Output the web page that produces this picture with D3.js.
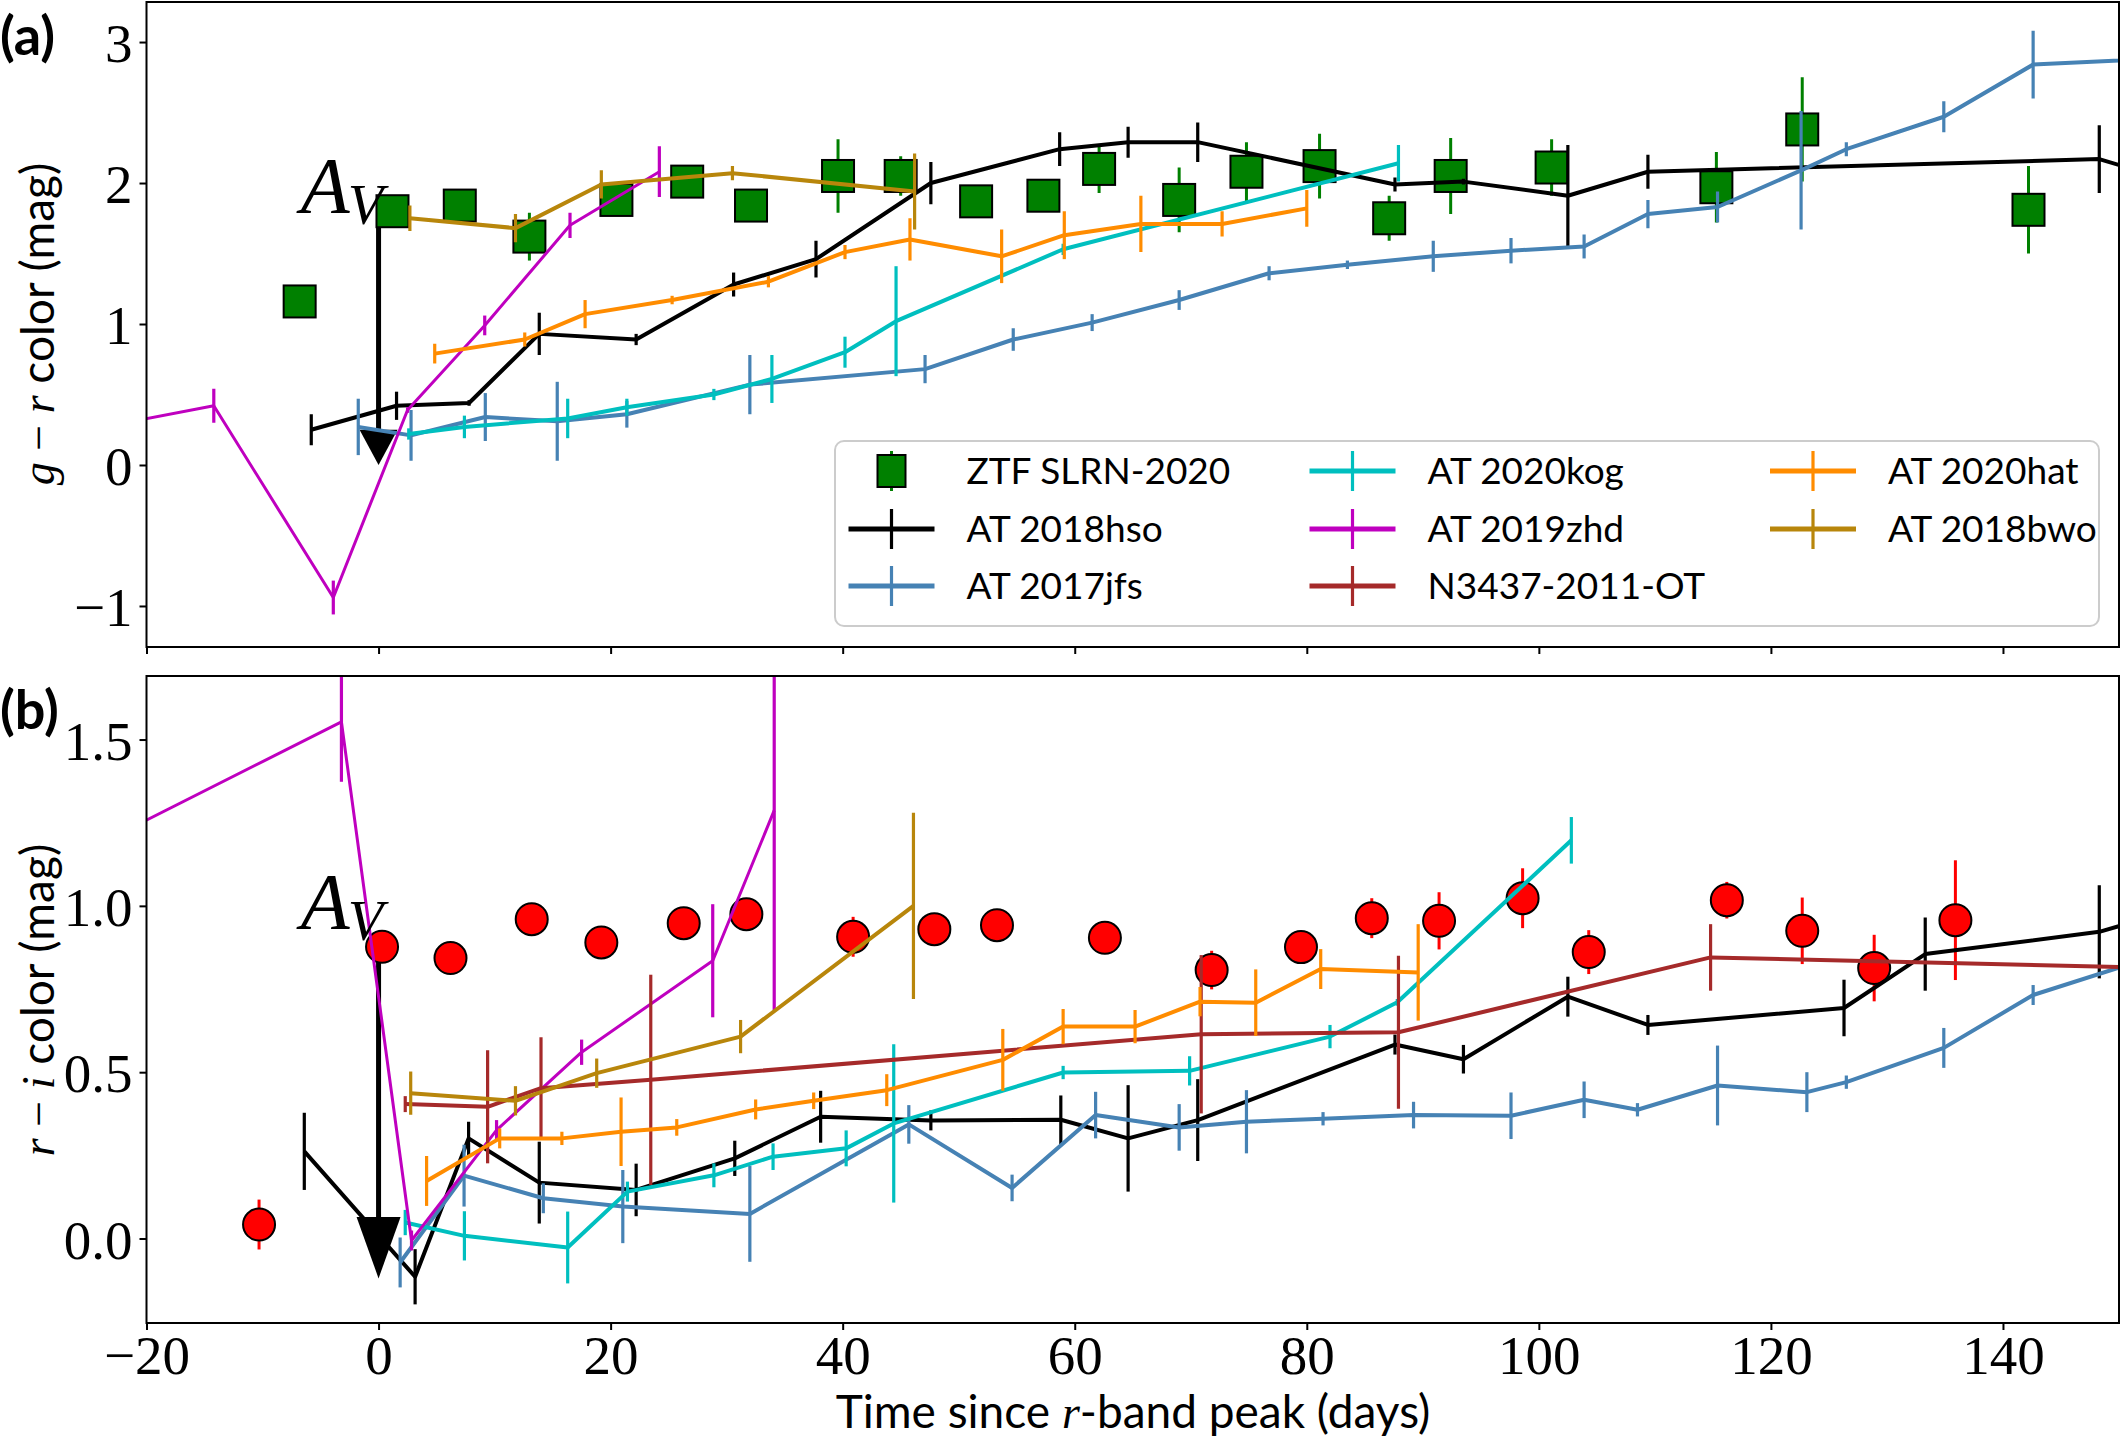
<!DOCTYPE html>
<html>
<head>
<meta charset="utf-8">
<script src="https://cdn.jsdelivr.net/npm/d3@7"></script>
<style>
  body { margin: 0; background: #fff; }
  svg { display: block; }
</style>
</head>
<body>
<svg id="chart" width="2121" height="1442"></svg>
<script>
// ---------- data: panel (a) g - r ----------
var ztfGrDay = [-6.8, 1.2, 7.0, 13.0, 20.5, 26.6, 32.1, 39.6, 45.0, 51.5, 57.3, 62.1, 69.0, 74.8, 81.1, 87.1, 92.4, 101.1, 115.3, 122.7, 142.2];
var ztfGr    = [1.16, 1.80, 1.84, 1.62, 1.88, 2.01, 1.84, 2.05, 2.05, 1.87, 1.91, 2.10, 1.88, 2.08, 2.12, 1.75, 2.05, 2.11, 1.97, 2.38, 1.81];
var ztfGrErr = [0.03, 0.03, 0.03, 0.17, 0.04, 0.03, 0.04, 0.26, 0.14, 0.04, 0.04, 0.17, 0.23, 0.21, 0.23, 0.16, 0.27, 0.20, 0.25, 0.37, 0.31];

var hsoGrDay = [-5.8, 1.55, 7.8, 13.85, 22.2, 30.6, 37.7, 47.6, 58.7, 64.6, 70.6, 87.6, 93.5, 102.5, 109.4, 148.3, 158];
var hsoGr    = [0.25, 0.42, 0.44, 0.93, 0.89, 1.28, 1.46, 2.00, 2.24, 2.29, 2.29, 1.99, 2.01, 1.91, 2.08, 2.17, 1.93];
var hsoGrErr = [0.11, 0.10, 0.02, 0.15, 0.04, 0.085, 0.13, 0.15, 0.12, 0.11, 0.14, 0.05, 0.02, 0.36, 0.12, 0.24, 0.10];

var jfsGrDay = [-1.75, 2.8, 9.2, 15.4, 21.4, 32.0, 47.1, 54.7, 61.5, 69.0, 76.75, 83.5, 90.9, 97.6, 103.9, 109.4, 115.4, 122.6, 126.5, 134.9, 142.6, 158];
var jfsGr    = [0.27, 0.21, 0.34, 0.31, 0.36, 0.57, 0.68, 0.89, 1.01, 1.17, 1.36, 1.42, 1.48, 1.52, 1.55, 1.78, 1.83, 2.09, 2.24, 2.47, 2.84, 2.90];
var jfsGrErr = [0.20, 0.18, 0.17, 0.28, 0.095, 0.21, 0.10, 0.08, 0.06, 0.07, 0.05, 0.03, 0.11, 0.09, 0.085, 0.10, 0.11, 0.42, 0.05, 0.11, 0.24, 0.10];

var kogGrDay = [2.6, 7.4, 16.3, 21.4, 28.9, 33.9, 40.2, 44.6, 59.0, 87.9];
var kogGr    = [0.22, 0.27, 0.33, 0.41, 0.50, 0.61, 0.80, 1.02, 1.53, 2.14];
var kogGrErr = [0.04, 0.08, 0.14, 0.06, 0.04, 0.17, 0.11, 0.39, 0.04, 0.13];

var zhdGrDay = [-25, -14.2, -3.9, 2.5, 9.15, 16.5, 24.2];
var zhdGr    = [0.25, 0.42, -0.94, 0.39, 0.99, 1.70, 2.08];
var zhdGrErr = [0.10, 0.12, 0.12, 0.02, 0.07, 0.09, 0.18];

var hatGrDay = [4.84, 12.6, 17.8, 25.3, 33.6, 40.2, 45.8, 53.7, 59.1, 65.7, 72.7, 80.0];
var hatGr    = [0.79, 0.89, 1.07, 1.17, 1.30, 1.51, 1.60, 1.48, 1.63, 1.71, 1.71, 1.82];
var hatGrErr = [0.07, 0.05, 0.10, 0.03, 0.04, 0.05, 0.15, 0.19, 0.17, 0.20, 0.09, 0.13];

var bwoGrDay = [2.7, 11.8, 19.2, 30.5, 46.2];
var bwoGr    = [1.75, 1.68, 1.99, 2.07, 1.94];
var bwoGrErr = [0.09, 0.10, 0.10, 0.05, 0.27];

// ---------- data: panel (b) r - i ----------
var ztfRiDay = [-10.3, 0.3, 6.2, 13.2, 19.2, 26.3, 31.7, 40.9, 47.9, 53.3, 62.6, 71.8, 79.5, 85.6, 91.4, 98.6, 104.3, 116.2, 122.7, 128.9, 135.9];
var ztfRi    = [0.042, 0.877, 0.843, 0.96, 0.89, 0.948, 0.975, 0.907, 0.93, 0.942, 0.904, 0.807, 0.876, 0.963, 0.955, 1.023, 0.861, 1.017, 0.925, 0.813, 0.957];
var ztfRiErr = [0.075, 0.03, 0.03, 0.03, 0.03, 0.03, 0.03, 0.06, 0.03, 0.03, 0.03, 0.058, 0.03, 0.06, 0.086, 0.09, 0.066, 0.055, 0.10, 0.10, 0.18];

var hsoRiDay = [-6.4, 3.15, 7.76, 13.85, 22.2, 30.7, 38.1, 47.6, 58.8, 64.6, 70.6, 87.6, 93.5, 102.5, 109.4, 126.3, 133.3, 148.3, 158];
var hsoRi    = [0.262, -0.115, 0.301, 0.168, 0.146, 0.241, 0.366, 0.355, 0.357, 0.301, 0.356, 0.583, 0.539, 0.727, 0.642, 0.693, 0.855, 0.922, 1.02];
var hsoRiErr = [0.116, 0.083, 0.05, 0.123, 0.079, 0.053, 0.078, 0.03, 0.073, 0.16, 0.123, 0.03, 0.043, 0.06, 0.03, 0.085, 0.11, 0.14, 0.10];

var jfsRiDay = [1.86, 7.37, 14.2, 21.05, 32.0, 45.7, 54.6, 61.8, 69.0, 74.8, 81.4, 89.2, 97.6, 103.9, 108.5, 115.4, 123.1, 126.5, 134.9, 142.6, 150.5];
var jfsRi    = [-0.072, 0.189, 0.121, 0.096, 0.074, 0.343, 0.152, 0.371, 0.334, 0.351, 0.36, 0.371, 0.369, 0.417, 0.387, 0.46, 0.44, 0.47, 0.573, 0.732, 0.82];
var jfsRiErr = [0.075, 0.093, 0.045, 0.11, 0.144, 0.058, 0.04, 0.07, 0.07, 0.095, 0.02, 0.04, 0.07, 0.055, 0.02, 0.12, 0.06, 0.02, 0.06, 0.03, 0.03];

var kogRiDay = [2.3, 7.4, 16.3, 21.45, 28.9, 34.0, 40.3, 44.4, 59.0, 69.9, 82.0, 87.8, 102.8];
var kogRi    = [0.048, 0.008, -0.027, 0.141, 0.19, 0.246, 0.271, 0.346, 0.499, 0.504, 0.607, 0.71, 1.197];
var kogRiErr = [0.038, 0.074, 0.108, 0.03, 0.036, 0.04, 0.054, 0.238, 0.02, 0.044, 0.035, 0.01, 0.07];

var zhdRiDay = [-25, -3.2, 2.84, 10.17, 17.5, 28.8, 34.1];
var zhdRi    = [1.17, 1.553, -0.006, 0.326, 0.56, 0.835, 1.287];
var zhdRiErr = [0.10, 0.18, 0.03, 0.03, 0.038, 0.17, 0.60];

var n3437RiDay = [2.3, 9.4, 14.0, 23.46, 70.9, 87.9, 114.8, 151];
var n3437Ri    = [0.404, 0.396, 0.452, 0.477, 0.614, 0.62, 0.845, 0.815];
var n3437RiErr = [0.024, 0.17, 0.153, 0.316, 0.238, 0.23, 0.10, 0.05];

var hatRiDay = [4.14, 10.44, 15.8, 20.9, 25.7, 32.5, 37.5, 43.8, 53.8, 59.0, 65.2, 70.8, 75.6, 81.2, 89.6];
var hatRi    = [0.173, 0.301, 0.301, 0.321, 0.334, 0.388, 0.414, 0.446, 0.537, 0.637, 0.637, 0.712, 0.709, 0.81, 0.80];
var hatRiErr = [0.075, 0.03, 0.02, 0.103, 0.025, 0.03, 0.025, 0.048, 0.093, 0.053, 0.05, 0.044, 0.10, 0.06, 0.145];

var bwoRiDay = [2.77, 11.8, 18.8, 31.2, 46.1];
var bwoRi    = [0.437, 0.414, 0.497, 0.607, 1.0];
var bwoRiErr = [0.065, 0.044, 0.044, 0.05, 0.28];

// ticks and legend
var xTicks = [-20, 0, 20, 40, 60, 80, 100, 120, 140];
var yTicksA = [-1, 0, 1, 2, 3];
var yTicksB = [0.0, 0.5, 1.0, 1.5];
var legendNames = ["ZTF SLRN-2020", "AT 2018hso", "AT 2017jfs", "AT 2020kog", "AT 2019zhd", "N3437-2011-OT", "AT 2020hat", "AT 2018bwo"];
var legendColors = ["#008000", "black", "#4682B4", "#00BFBF", "#BF00BF", "#A52A2A", "#FF8C00", "#B8860B"];

var serif = "'Liberation Serif', 'DejaVu Serif', serif";
var sans = "Lato, 'Open Sans', sans-serif";

var svg = d3.select("#chart");

// shared x scale, one y scale per panel
var left = 146.5, right = 2119;
var x = d3.scaleLinear().domain([-20, 150]).range([left, right]);
var ya = d3.scaleLinear().domain([-1.291, 3.284]).range([647, 2]);
var yb = d3.scaleLinear().domain([-0.254, 1.691]).range([1323, 676]);

var defs = svg.append("defs");
function clip(id, y) {
  defs.append("clipPath").attr("id", id)
    .append("rect")
    .attr("x", left).attr("y", y.range()[1])
    .attr("width", right - left).attr("height", y.range()[0] - y.range()[1]);
}
clip("clipA", ya);
clip("clipB", yb);

// one line + error bars
function drawSeries(g, y, days, vals, errs, color, lw) {
  var pts = days.map(function (d, i) { return { t: d, v: vals[i], e: errs[i] }; });
  g.append("path")
    .datum(pts)
    .attr("fill", "none")
    .attr("stroke", color)
    .attr("stroke-width", lw)
    .attr("stroke-linejoin", "round")
    .attr("d", d3.line().x(function (d) { return x(d.t); }).y(function (d) { return y(d.v); }));
  g.selectAll(null)
    .data(pts)
    .enter()
    .append("line")
    .attr("x1", function (d) { return x(d.t); })
    .attr("x2", function (d) { return x(d.t); })
    .attr("y1", function (d) { return y(d.v - d.e); })
    .attr("y2", function (d) { return y(d.v + d.e); })
    .attr("stroke", color)
    .attr("stroke-width", 3.2);
}

// ZTF points: error bars + marker
function drawZtf(g, y, days, vals, errs, color, shape) {
  var pts = days.map(function (d, i) { return { t: d, v: vals[i], e: errs[i] }; });
  g.selectAll(null)
    .data(pts)
    .enter()
    .append("line")
    .attr("x1", function (d) { return x(d.t); })
    .attr("x2", function (d) { return x(d.t); })
    .attr("y1", function (d) { return y(d.v - d.e); })
    .attr("y2", function (d) { return y(d.v + d.e); })
    .attr("stroke", color)
    .attr("stroke-width", 3);
  if (shape == "square") {
    g.selectAll(null)
      .data(pts)
      .enter()
      .append("rect")
      .attr("x", function (d) { return x(d.t) - 16; })
      .attr("y", function (d) { return y(d.v) - 16; })
      .attr("width", 32).attr("height", 32)
      .attr("fill", color).attr("stroke", "black").attr("stroke-width", 2);
  } else {
    g.selectAll(null)
      .data(pts)
      .enter()
      .append("circle")
      .attr("cx", function (d) { return x(d.t); })
      .attr("cy", function (d) { return y(d.v); })
      .attr("r", 16)
      .attr("fill", color).attr("stroke", "black").attr("stroke-width", 2);
  }
}

// extinction arrow at t = 0
function drawArrow(g, y, top, headTop, tip, halfW) {
  g.append("line")
    .attr("x1", x(0)).attr("x2", x(0))
    .attr("y1", y(top)).attr("y2", y(headTop))
    .attr("stroke", "black").attr("stroke-width", 5);
  g.append("path")
    .attr("d", "M" + (x(0) - halfW) + "," + y(headTop) + "L" + (x(0) + halfW) + "," + y(headTop) + "L" + x(0) + "," + y(tip) + "Z")
    .attr("fill", "black");
}

function drawAv(y, base) {
  var t = svg.append("text")
    .attr("x", x(-6.7)).attr("y", y(base))
    .style("font-family", serif).style("font-style", "italic").style("font-size", "80px");
  t.append("tspan").text("A");
  t.append("tspan").attr("dx", -2).attr("dy", 11).style("font-size", "58px").text("V");
}

function drawAxes(y, ticks, fmt, showX) {
  var ax = svg.append("g")
    .attr("transform", "translate(" + left + ",0)")
    .call(d3.axisLeft(y).tickValues(ticks).tickFormat(d3.format(fmt)).tickSize(7).tickPadding(7));
  var bx = svg.append("g")
    .attr("transform", "translate(0," + y.range()[0] + ")")
    .call(d3.axisBottom(x).tickValues(xTicks).tickFormat(showX ? d3.format("d") : "").tickSize(7).tickPadding(5));
  [ax, bx].forEach(function (a) {
    a.select(".domain").remove();
    a.selectAll(".tick line").attr("stroke", "black").attr("stroke-width", 2);
    a.selectAll(".tick text").style("font-family", serif).style("font-size", "55px").attr("fill", "black");
  });
  ax.selectAll(".tick text").attr("dy", "0.36em");
  svg.append("rect")
    .attr("x", left).attr("y", y.range()[1])
    .attr("width", right - left).attr("height", y.range()[0] - y.range()[1])
    .attr("fill", "none").attr("stroke", "black").attr("stroke-width", 2);
}

// ---------------- panel (a) ----------------
var ga = svg.append("g").attr("clip-path", "url(#clipA)");
drawArrow(ga, ya, 1.72, 0.25, 0.0, 19);
drawZtf(ga, ya, ztfGrDay, ztfGr, ztfGrErr, "#008000", "square");
drawSeries(ga, ya, hsoGrDay, hsoGr, hsoGrErr, "black", 4);
drawSeries(ga, ya, jfsGrDay, jfsGr, jfsGrErr, "#4682B4", 4);
drawSeries(ga, ya, kogGrDay, kogGr, kogGrErr, "#00BFBF", 4);
drawSeries(ga, ya, zhdGrDay, zhdGr, zhdGrErr, "#BF00BF", 3);
drawSeries(ga, ya, hatGrDay, hatGr, hatGrErr, "#FF8C00", 4);
drawSeries(ga, ya, bwoGrDay, bwoGr, bwoGrErr, "#B8860B", 4);
drawAxes(ya, yTicksA, "d", false);
drawAv(ya, 1.79);

// ---------------- panel (b) ----------------
var gb = svg.append("g").attr("clip-path", "url(#clipB)");
drawArrow(gb, yb, 0.845, 0.065, -0.12, 22);
drawZtf(gb, yb, ztfRiDay, ztfRi, ztfRiErr, "red", "circle");
drawSeries(gb, yb, hsoRiDay, hsoRi, hsoRiErr, "black", 4);
drawSeries(gb, yb, jfsRiDay, jfsRi, jfsRiErr, "#4682B4", 4);
drawSeries(gb, yb, kogRiDay, kogRi, kogRiErr, "#00BFBF", 4);
drawSeries(gb, yb, zhdRiDay, zhdRi, zhdRiErr, "#BF00BF", 3);
drawSeries(gb, yb, n3437RiDay, n3437Ri, n3437RiErr, "#A52A2A", 4);
drawSeries(gb, yb, hatRiDay, hatRi, hatRiErr, "#FF8C00", 4);
drawSeries(gb, yb, bwoRiDay, bwoRi, bwoRiErr, "#B8860B", 4);
drawAxes(yb, yTicksB, ".1f", true);
drawAv(yb, 0.93);

// panel letters
svg.append("text").attr("x", 0).attr("y", 55).text("(a)")
  .style("font-family", sans).style("font-weight", "bold").style("font-size", "54px");
svg.append("text").attr("x", 0).attr("y", 729).text("(b)")
  .style("font-family", sans).style("font-weight", "bold").style("font-size", "54px");

// y axis labels
function yLabel(cx, cy, a, b) {
  var t = svg.append("text")
    .attr("transform", "translate(" + cx + "," + cy + ") rotate(-90)")
    .attr("text-anchor", "middle")
    .style("font-size", "46px");
  t.append("tspan").style("font-family", serif).style("font-style", "italic").text(a);
  t.append("tspan").style("font-family", serif).text(" \u2212 ");
  t.append("tspan").style("font-family", serif).style("font-style", "italic").text(b);
  t.append("tspan").style("font-family", sans).text(" color (mag)");
}
yLabel(54, 324, "g", "r");
yLabel(54, 1000, "r", "i");

// x axis label
var xl = svg.append("text")
  .attr("x", 1133).attr("y", 1428)
  .attr("text-anchor", "middle")
  .style("font-size", "46px");
xl.append("tspan").style("font-family", sans).text("Time since ");
xl.append("tspan").style("font-family", serif).style("font-style", "italic").text("r");
xl.append("tspan").style("font-family", sans).text("-band peak (days)");

// ---------------- legend ----------------
var leg = svg.append("g");
leg.append("rect")
  .attr("x", 835).attr("y", 441).attr("width", 1264).attr("height", 185)
  .attr("rx", 9)
  .attr("fill", "white").attr("fill-opacity", 0.8)
  .attr("stroke", "#cccccc").attr("stroke-width", 2);

var colX = [848.5, 1309.5, 1770];
var rowY = [471, 529, 586];
legendNames.forEach(function (name, i) {
  var col = Math.floor(i / 3), row = i % 3;
  var hx = colX[col], hy = rowY[row], mid = hx + 43;
  var c = legendColors[i];
  if (i == 0) {
    leg.append("line").attr("x1", mid).attr("x2", mid).attr("y1", hy - 20).attr("y2", hy + 20)
      .attr("stroke", c).attr("stroke-width", 3);
    leg.append("rect").attr("x", mid - 14).attr("y", hy - 16).attr("width", 28).attr("height", 32)
      .attr("fill", c).attr("stroke", "black").attr("stroke-width", 2);
  } else {
    leg.append("line").attr("x1", hx).attr("x2", hx + 86).attr("y1", hy).attr("y2", hy)
      .attr("stroke", c).attr("stroke-width", 5);
    leg.append("line").attr("x1", mid).attr("x2", mid).attr("y1", hy - 20).attr("y2", hy + 20)
      .attr("stroke", c).attr("stroke-width", 3.2);
  }
  leg.append("text")
    .attr("x", hx + 118).attr("y", hy + 13)
    .text(name)
    .style("font-family", sans).style("font-size", "37px").attr("fill", "black");
});
</script>
</body>
</html>
